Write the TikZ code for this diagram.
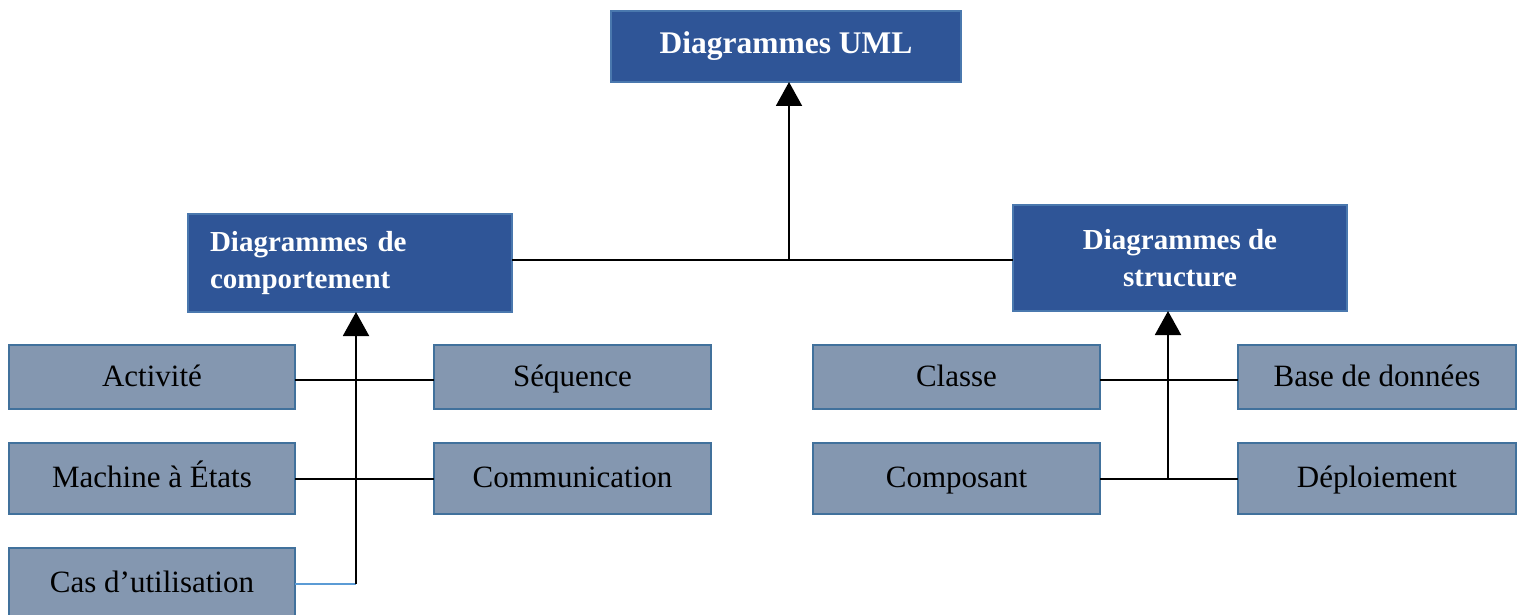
\documentclass[tikz,border=0pt]{standalone}
\usepackage{fontspec}
\setmainfont{Liberation Serif}
\usetikzlibrary{arrows.meta}
\definecolor{hdrfill}{HTML}{2F5597}
\definecolor{hdrdraw}{HTML}{4A78AE}
\definecolor{subfill}{HTML}{8497B0}
\definecolor{subdraw}{HTML}{41719C}
\definecolor{bluelink}{HTML}{5B9BD5}
\tikzset{
  hdr/.style={draw=hdrdraw, fill=hdrfill, line width=2pt, inner sep=0pt, outer sep=0pt,
    text=white, font=\fontsize{29}{37}\selectfont\bfseries},
  leaf/.style={draw=subdraw, fill=subfill, line width=2pt, inner sep=0pt, outer sep=0pt,
    text=black, font=\fontsize{31}{36}\selectfont, minimum height=64pt,
    text height=25pt, text depth=7pt},
  conn/.style={line width=2pt, black},
  arr/.style={conn, -{Triangle[width=26pt,length=24pt]}}
}
\begin{document}
\begin{tikzpicture}[x=1pt,y=-1pt]
\useasboundingbox (0,0) rectangle (1522,615);
\clip (0,0) rectangle (1522,615);
% headers
\node[hdr, minimum width=350pt, minimum height=71pt, font=\fontsize{31.5}{36}\selectfont\bfseries] (top) at (786,46.5) {Diagrammes UML};
\node[hdr, minimum width=324pt, minimum height=98pt, text width=280pt, align=left] (lh) at (350,263) {Diagrammes de\\comportement};
\node[hdr, minimum width=334pt, minimum height=106pt, align=center] (rh) at (1180,258) {Diagrammes de\\structure};
% left leaves
\node[leaf, minimum width=286pt] (act) at (152,377) {Activité};
\node[leaf, minimum width=286pt, minimum height=71pt] (mach) at (152,478.5) {Machine à États};
\node[leaf, minimum width=286pt, minimum height=71pt] (cas) at (152,583.5) {Cas d’utilisation};
\node[leaf, minimum width=277pt] (seq) at (572.5,377) {Séquence};
\node[leaf, minimum width=277pt, minimum height=71pt] (comm) at (572.5,478.5) {Communication};
% right leaves
\node[leaf, minimum width=287pt] (cls) at (956.5,377) {Classe};
\node[leaf, minimum width=287pt, minimum height=71pt] (comp) at (956.5,478.5) {Composant};
\node[leaf, minimum width=278pt] (base) at (1377,377) {Base de données};
\node[leaf, minimum width=278pt, minimum height=71pt] (depl) at (1377,478.5) {Déploiement};
% junctions
\coordinate (J) at (789,260);
\coordinate (L) at (356,584);
\coordinate (R) at (1168,478);
% connectors
\draw[conn] (lh.east |- J) -- (rh.west |- J);
\draw[arr] (J) -- (J |- top.south);
\draw[conn] ([yshift=-2.5pt]act.east) -- ([yshift=-2.5pt]seq.west);
\draw[conn] (mach.east) -- (comm.west);
\draw[line width=2pt, bluelink] (cas.east |- L) -- (L);
\draw[arr] (L) -- (L |- lh.south);
\draw[conn] ([yshift=-2.5pt]cls.east) -- ([yshift=-2.5pt]base.west);
\draw[conn] (comp.east) -- (depl.west);
\draw[arr] (R) -- (R |- rh.south);
\end{tikzpicture}
\end{document}
